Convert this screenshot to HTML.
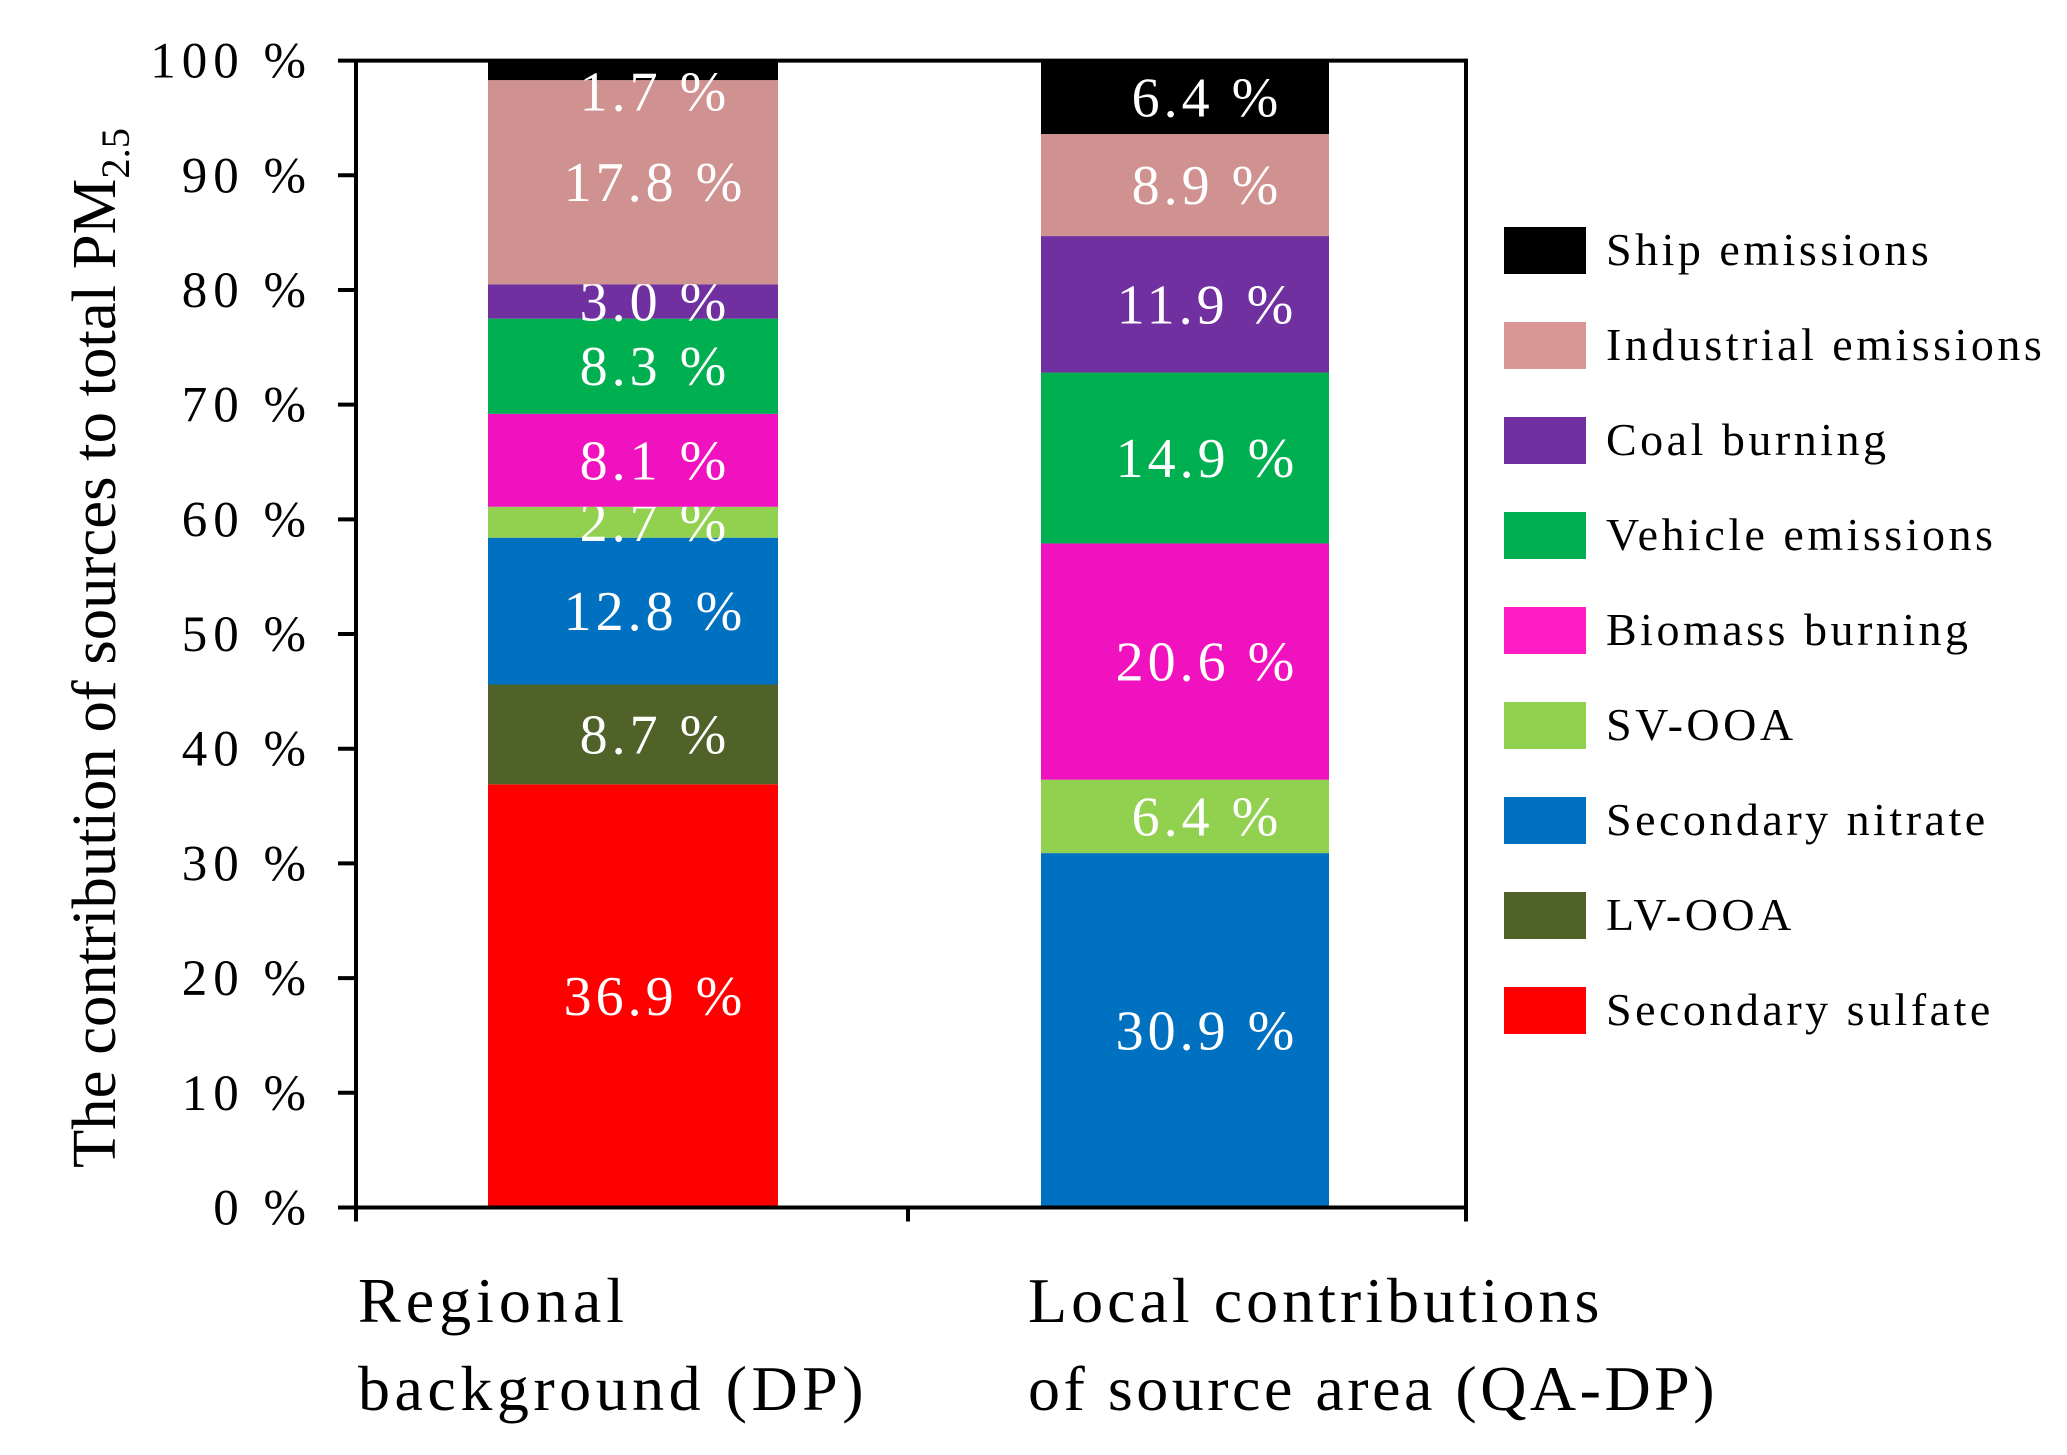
<!DOCTYPE html>
<html><head><meta charset="utf-8"><style>
html,body{margin:0;padding:0;background:#fff;}
svg{display:block;font-family:"Liberation Serif",serif;}
</style></head><body>
<svg id="chart" width="2067" height="1455" viewBox="0 0 2067 1455" xmlns="http://www.w3.org/2000/svg">
<g id="bars"></g>
<g id="axes"></g>
<g id="legend"></g>
<text transform="translate(115,1168) rotate(-90)" font-size="62" textLength="1040" lengthAdjust="spacingAndGlyphs">The contribution of sources to total PM<tspan font-size="40" dy="14">2.5</tspan></text>
<text font-size="64" letter-spacing="5" x="358" y="1322">Regional</text>
<text font-size="64" letter-spacing="4.5" x="358" y="1410">background  (DP)</text>
<text font-size="64" letter-spacing="4" x="1028" y="1322">Local contributions</text>
<text font-size="64" letter-spacing="3.5" x="1028" y="1410">of source area (QA-DP)</text>
</svg>
<script>
const sources = ["Secondary sulfate","LV-OOA","Secondary nitrate","SV-OOA","Biomass burning","Vehicle emissions","Coal burning","Industrial emissions","Ship emissions"];
const colors = ["#ff0000","#4f6228","#0070c0","#92d050","#f012be","#00b050","#7030a0","#d09290","#000000"];
const legendColors = ["#ff0000","#4f6228","#0070c0","#92d050","#ff1cc4","#00b050","#7030a0","#da9694","#000000"];
const regionalValues = [36.9,8.7,12.8,2.7,8.1,8.3,3.0,17.8,1.7];
const localValues = [0,0,30.9,6.4,20.6,14.9,11.9,8.9,6.4];
const yTicks = [0,10,20,30,40,50,60,70,80,90,100];

const NS="http://www.w3.org/2000/svg";
const y0=1207.5, y100=60.6, axL=356, axR=1466;
function yScale(v){return y0+(y100-y0)*v/100;}
function mk(tag,attrs,parent){const e=document.createElementNS(NS,tag);for(const k in attrs)e.setAttribute(k,attrs[k]);parent.appendChild(e);return e;}
const bars=document.getElementById('bars'), axes=document.getElementById('axes'), legend=document.getElementById('legend');
const series=[{vals:regionalValues,x:488,w:290,name:'regional'},{vals:localValues,x:1041,w:288,name:'local'}];
series.forEach(s=>{
  let cum=0;
  s.vals.forEach((v,i)=>{
    if(v<=0){return;}
    const top=yScale(cum+v), bot=yScale(cum);
    const r=mk('rect',{x:s.x,y:top,width:s.w,height:bot-top,fill:colors[i]},bars);
    
    
    let ly=(top+bot)/2+19;
    if(v<2.5) ly=top+50;
    const t=mk('text',{x:s.x+s.w/2+22,y:ly,'text-anchor':'middle','font-size':'56',fill:'#fff','letter-spacing':'4'},bars);
    t.textContent=v.toFixed(1)+' %';
    
    
    cum+=v;
  });
});
const l1=mk('line',{x1:axL,y1:y100-1,x2:axL,y2:y0+14,stroke:'#000','stroke-width':4},axes);


const l2=mk('line',{x1:axL-18,y1:y0,x2:axR,y2:y0,stroke:'#000','stroke-width':4},axes);


const l3=mk('line',{x1:axL,y1:y100,x2:axR,y2:y100,stroke:'#000','stroke-width':4},axes);


const l4=mk('line',{x1:axR,y1:y100-2,x2:axR,y2:y0+14,stroke:'#000','stroke-width':4},axes);


const mt=mk('line',{x1:908,y1:y0,x2:908,y2:y0+14,stroke:'#000','stroke-width':4},axes);


yTicks.forEach(v=>{
  const y=yScale(v);
  const tk=mk('line',{x1:axL-18,y1:y,x2:axL,y2:y,stroke:'#000','stroke-width':4},axes);
  
  
  const t=mk('text',{x:312,y:y+17,'text-anchor':'end','font-size':'51','letter-spacing':'6'},axes);
  t.textContent=v+' %';
  
  
});
for(let k=0;k<sources.length;k++){
  const i=sources.length-1-k;
  const y=250+k*95;
  const r=mk('rect',{x:1504,y:y-23,width:82,height:47,fill:legendColors[i]},legend);
  
  
  const t=mk('text',{x:1606,y:y+15,'font-size':'46','letter-spacing':'3.5'},legend);
  t.textContent=sources[i];
  
  
}
</script>
</body></html>
